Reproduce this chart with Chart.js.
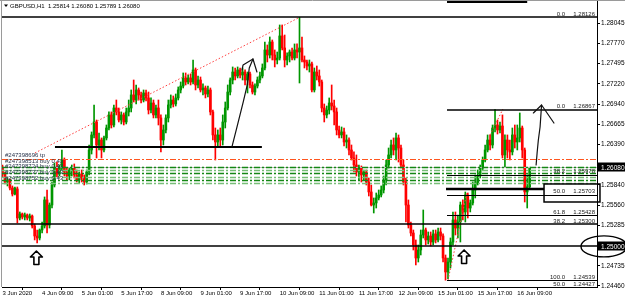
<!DOCTYPE html>
<html><head><meta charset="utf-8">
<style>html,body{margin:0;padding:0;background:#fff;overflow:hidden}canvas{display:block}</style>
</head><body>
<canvas id="c" width="625" height="301"></canvas>
<script src="https://cdn.jsdelivr.net/npm/chart.js@4/dist/chart.umd.min.js"></script>
<script>
const symbolTitle = "GBPUSD,H1  1.25814 1.26080 1.25789 1.26080";
const xTickLabels = ["3 Jun 2020","4 Jun 09:00","5 Jun 01:00","5 Jun 17:00","8 Jun 09:00","9 Jun 01:00","9 Jun 17:00","10 Jun 09:00","11 Jun 01:00","11 Jun 17:00","12 Jun 09:00","15 Jun 01:00","15 Jun 17:00","16 Jun 09:00"];
const barsPerLabel = 16;
const yTickValues = [1.28045,1.27770,1.27495,1.27220,1.26940,1.26665,1.26390,1.25840,1.25560,1.25285,1.24735,1.24460];
const markedPrices = [1.26080,1.25000];

const barOpen = [
1.26084,1.25988,1.25879,1.25907,1.25797,1.25715,1.25784,1.25388,1.25443,1.25402,
1.25429,1.25388,1.25415,1.25279,1.25142,1.25115,1.25224,1.25279,1.25634,1.25292,
1.25565,1.25838,1.26070,1.25988,1.26070,1.26179,1.26016,1.25961,1.26043,1.26070,
1.25975,1.25907,1.25988,1.25934,1.25879,1.26016,1.26316,1.26521,1.26698,1.26384,
1.26452,1.26316,1.26480,1.26616,1.26794,1.26657,1.26889,1.26835,1.26725,1.26794,
1.26698,1.26835,1.26889,1.27067,1.26998,1.27135,1.27067,1.26998,1.27094,1.27026,
1.26862,1.26957,1.26794,1.26889,1.26753,1.26452,1.26589,1.26753,1.26930,1.26998,
1.26944,1.27026,1.27135,1.27189,1.27299,1.27244,1.27299,1.27244,1.27408,1.27203,
1.27271,1.27135,1.27162,1.27080,1.27135,1.26835,1.26521,1.26425,1.26521,1.26452,
1.26698,1.26889,1.27107,1.27271,1.27380,1.27326,1.27408,1.27339,1.27380,1.27271,
1.27353,1.27203,1.27107,1.27189,1.27271,1.27326,1.27435,1.27681,1.27612,1.27790,
1.27612,1.27544,1.27571,1.27872,1.27708,1.27544,1.27599,1.27653,1.27571,1.27681,
1.27653,1.27708,1.27544,1.27517,1.27462,1.27490,1.27135,1.27380,1.27326,1.27244,
1.26889,1.26794,1.26862,1.26957,1.26916,1.26835,1.26589,1.26521,1.26562,1.26425,
1.26452,1.26316,1.26207,1.26111,1.26016,1.26070,1.25975,1.26016,1.25879,1.25743,
1.25565,1.25593,1.25661,1.25702,1.25770,1.25907,1.26111,1.26248,1.26384,1.26316,
1.26480,1.26343,1.26111,1.25879,1.25565,1.25292,1.25183,1.25019,1.24842,1.24951,
1.25156,1.25224,1.25088,1.25142,1.25060,1.25170,1.25088,1.25197,1.25142,1.24842,
1.24651,1.24787,1.25060,1.25361,1.25251,1.25333,1.25565,1.25470,1.25702,1.25524,
1.25593,1.25770,1.25866,1.25961,1.26070,1.26179,1.26316,1.26452,1.26384,1.26616,
1.26657,1.26589,1.26643,1.26248,1.26452,1.26316,1.26289,1.26521,1.26425,1.26480,
1.26616,1.26316,1.25743,1.25814];
const barHigh = [
1.26111,1.26016,1.25934,1.25920,1.25825,1.25811,1.25811,1.25470,1.25456,1.25456,
1.25443,1.25443,1.25429,1.25306,1.25224,1.25238,1.25333,1.25675,1.25770,1.25593,
1.25879,1.26138,1.26152,1.26111,1.26316,1.26207,1.26070,1.26070,1.26111,1.26125,
1.26043,1.26016,1.26043,1.25975,1.26043,1.26384,1.26562,1.26930,1.26725,1.26548,
1.26480,1.26507,1.26657,1.26835,1.26835,1.26930,1.26998,1.26889,1.26835,1.26821,
1.26889,1.26998,1.27135,1.27271,1.27203,1.27162,1.27107,1.27135,1.27135,1.27107,
1.27026,1.26998,1.26930,1.26998,1.26794,1.26657,1.26794,1.26998,1.27067,1.27053,
1.27080,1.27176,1.27244,1.27367,1.27367,1.27339,1.27353,1.27544,1.27435,1.27326,
1.27312,1.27217,1.27189,1.27189,1.27162,1.26862,1.26616,1.26589,1.26616,1.26794,
1.26971,1.27203,1.27299,1.27449,1.27435,1.27449,1.27435,1.27435,1.27408,1.27380,
1.27380,1.27244,1.27217,1.27312,1.27380,1.27490,1.27790,1.27749,1.27858,1.27817,
1.27681,1.27653,1.28022,1.28022,1.27885,1.27640,1.27681,1.27708,1.27763,1.27763,
1.28126,1.27858,1.27599,1.27544,1.27544,1.27517,1.27435,1.27462,1.27408,1.27271,
1.26944,1.26916,1.27026,1.27203,1.26998,1.26889,1.26643,1.26630,1.26616,1.26521,
1.26480,1.26384,1.26289,1.26248,1.26111,1.26098,1.26043,1.26043,1.25934,1.25838,
1.25661,1.25729,1.25770,1.25825,1.25961,1.26179,1.26343,1.26452,1.26480,1.26548,
1.26521,1.26384,1.26179,1.25934,1.25634,1.25333,1.25224,1.25088,1.25019,1.25224,
1.25497,1.25251,1.25197,1.25197,1.25224,1.25224,1.25251,1.25251,1.25170,1.24883,
1.24842,1.25115,1.25470,1.25470,1.25429,1.25606,1.25634,1.25743,1.25729,1.25634,
1.25879,1.25975,1.26043,1.26111,1.26220,1.26384,1.26521,1.26521,1.26657,1.26867,
1.26725,1.26698,1.26794,1.26521,1.26521,1.26452,1.26616,1.26657,1.26657,1.26821,
1.26643,1.26343,1.25975,1.26080];
const barLow = [
1.25947,1.25852,1.25825,1.25770,1.25688,1.25702,1.25320,1.25361,1.25374,1.25361,
1.25361,1.25347,1.25251,1.25088,1.25047,1.25088,1.25183,1.25251,1.25183,1.25251,
1.25524,1.25811,1.25947,1.25961,1.26043,1.25961,1.25907,1.25907,1.25961,1.25934,
1.25879,1.25866,1.25879,1.25838,1.25852,1.25975,1.26261,1.26480,1.26207,1.26316,
1.26207,1.26289,1.26452,1.26589,1.26616,1.26630,1.26794,1.26698,1.26671,1.26657,
1.26671,1.26780,1.26835,1.26971,1.26944,1.26998,1.26957,1.26971,1.26985,1.26807,
1.26821,1.26753,1.26753,1.26657,1.26289,1.26384,1.26548,1.26698,1.26889,1.26903,
1.26916,1.26998,1.27094,1.27162,1.27203,1.27217,1.27203,1.27217,1.27135,1.27162,
1.27107,1.27067,1.27026,1.27039,1.26794,1.26452,1.26179,1.26371,1.26371,1.26384,
1.26616,1.26862,1.27067,1.27217,1.27271,1.27299,1.27299,1.27271,1.27203,1.27094,
1.27162,1.27080,1.27067,1.27162,1.27230,1.27299,1.27408,1.27517,1.27571,1.27544,
1.27449,1.27490,1.27544,1.27681,1.27449,1.27476,1.27517,1.27544,1.27544,1.27571,
1.27230,1.27517,1.27435,1.27408,1.27380,1.27107,1.27107,1.27271,1.27189,1.26835,
1.26698,1.26753,1.26807,1.26862,1.26657,1.26521,1.26480,1.26480,1.26371,1.26343,
1.26248,1.26179,1.26016,1.25961,1.25907,1.25879,1.25907,1.25838,1.25688,1.25552,
1.25456,1.25524,1.25634,1.25675,1.25729,1.25838,1.26070,1.26207,1.26248,1.26179,
1.26152,1.26070,1.25838,1.25333,1.25251,1.25142,1.24951,1.24747,1.24787,1.24883,
1.25115,1.25019,1.25033,1.25006,1.25019,1.25047,1.25060,1.25088,1.24787,1.24539,
1.24560,1.24706,1.25019,1.25156,1.25115,1.25060,1.25361,1.25333,1.25388,1.25470,
1.25565,1.25661,1.25838,1.25934,1.26043,1.26152,1.26289,1.26316,1.26343,1.26562,
1.26534,1.26548,1.26207,1.26084,1.26207,1.26179,1.26248,1.26343,1.26316,1.26425,
1.26207,1.25606,1.25524,1.25789];
const barClose = [
1.25988,1.25879,1.25907,1.25797,1.25715,1.25797,1.25388,1.25443,1.25402,1.25429,
1.25388,1.25415,1.25279,1.25142,1.25115,1.25224,1.25279,1.25634,1.25292,1.25565,
1.25838,1.26070,1.25988,1.26070,1.26179,1.26016,1.25961,1.26043,1.26070,1.25975,
1.25907,1.25988,1.25934,1.25879,1.26016,1.26316,1.26521,1.26698,1.26384,1.26452,
1.26316,1.26480,1.26616,1.26794,1.26657,1.26889,1.26835,1.26725,1.26794,1.26698,
1.26835,1.26889,1.27067,1.26998,1.27135,1.27067,1.26998,1.27094,1.27026,1.26862,
1.26957,1.26794,1.26889,1.26753,1.26452,1.26589,1.26753,1.26930,1.26998,1.26944,
1.27026,1.27135,1.27189,1.27299,1.27244,1.27299,1.27244,1.27408,1.27203,1.27271,
1.27135,1.27162,1.27080,1.27135,1.26835,1.26521,1.26425,1.26521,1.26452,1.26698,
1.26889,1.27107,1.27271,1.27380,1.27326,1.27408,1.27339,1.27380,1.27271,1.27353,
1.27203,1.27107,1.27189,1.27271,1.27326,1.27435,1.27681,1.27612,1.27790,1.27612,
1.27544,1.27571,1.27872,1.27708,1.27544,1.27599,1.27653,1.27571,1.27681,1.27653,
1.27708,1.27544,1.27517,1.27462,1.27490,1.27135,1.27380,1.27326,1.27244,1.26889,
1.26794,1.26862,1.26957,1.26916,1.26835,1.26589,1.26521,1.26562,1.26425,1.26452,
1.26316,1.26207,1.26111,1.26016,1.26070,1.25975,1.26016,1.25879,1.25743,1.25565,
1.25593,1.25661,1.25702,1.25770,1.25907,1.26111,1.26248,1.26384,1.26316,1.26480,
1.26343,1.26111,1.25879,1.25565,1.25292,1.25183,1.25019,1.24842,1.24951,1.25156,
1.25224,1.25088,1.25142,1.25060,1.25170,1.25088,1.25197,1.25142,1.24842,1.24651,
1.24787,1.25060,1.25361,1.25251,1.25333,1.25565,1.25470,1.25702,1.25524,1.25593,
1.25770,1.25866,1.25961,1.26070,1.26179,1.26316,1.26452,1.26384,1.26616,1.26657,
1.26589,1.26643,1.26248,1.26452,1.26316,1.26289,1.26521,1.26425,1.26480,1.26616,
1.26316,1.25743,1.25814,1.26080];

const fibLevelText = ["0.0","0.0","38.2","50.0","61.8","38.2","100.0","50.0"];
const fibLevelPrice = [1.28126,1.26867,1.25978,1.25703,1.25428,1.25300,1.24539,1.24427];
const orderText = ["#247398696 tp","#247398513 buy 0.43","#247398724 buy 0.43","#247398737 buy 0.43","#247398752 buy 0.43"];
const orderTextPrice = [1.26248,1.26156,1.26088,1.26006,1.25930];
const tpPrice = 1.26189;
const orderLinePrice = [1.26088,1.26043,1.25998,1.25952,1.25907,1.25861];

// drawing objects (positions in bar index / price)
const hLines = [
  {p:1.28126,a:null,b:null,w:1.3},
  {p:1.28329,a:179.6,b:212,w:2.2},
  {p:1.26867,a:179.6,b:null,w:1.3},
  {p:1.26357,a:21.2,b:104.8,w:2},
  {p:1.25978,a:179.6,b:null,w:1},
  {p:1.25784,a:179.2,b:218.8,w:2.5},
  {p:1.25703,a:179.6,b:null,w:1},
  {p:1.25428,a:179.6,b:null,w:1},
  {p:1.25300,a:null,b:null,w:1.3},
  {p:1.25000,a:null,b:null,w:1.3},
  {p:1.24539,a:179.6,b:null,w:1}
];
const trendLines = [
  [[13.1,1.26275],[120,1.28126]],
  [[180,1.24539],[187.7,1.25743]],
  [[197,1.26521],[202.2,1.26875]]
];
const handArrows = [
  {shaft:[[92.7,1.26357],[94.6,1.26612],[97.3,1.26975],[98.9,1.27203],[99.7,1.27435],[101.2,1.27558]],
   head:[[96.8,1.27408],[97.2,1.27476],[101.2,1.27558],[102.8,1.27380]]},
  {shaft:[[215.6,1.26111],[216,1.26275],[216.5,1.26452],[217.2,1.26630],[217.8,1.26930]],
   head:[[214.5,1.26821],[217.8,1.26930],[222.8,1.26684]]}
];
const upArrowAt = [[13.7,1.24842],[186.5,1.24856]];
const boxObj = {a:218.8,b:241.4,top:1.25852,bottom:1.25606};

const bull = 'rgb(0,150,0)', bear = 'rgb(255,0,0)';
const candleColor = barClose.map((c,i)=> c >= barOpen[i] ? bull : bear);
const FONT = '"Liberation Sans", Arial, sans-serif';

const overlay = {
  id:'overlay',
  afterDatasetsDraw(chart){
    const {ctx, chartArea:ca, scales:{x,y}} = chart;
    const X = v => x.getPixelForValue(v), Y = v => y.getPixelForValue(v);
    const cy = p => Math.round(Y(p)) + 0.5;
    ctx.save();
    ctx.beginPath(); ctx.rect(ca.left, ca.top, ca.right-ca.left, ca.bottom-ca.top); ctx.clip();
    ctx.strokeStyle = '#b8b8b8'; ctx.lineWidth = 1; ctx.setLineDash([]);
    ctx.beginPath(); ctx.moveTo(ca.left, cy(1.26080)); ctx.lineTo(ca.right, cy(1.26080)); ctx.stroke();
    ctx.setLineDash([6,2,2,2]);
    orderLinePrice.forEach((p,k)=>{
      ctx.strokeStyle = k%2===0 ? 'rgb(20,135,20)' : 'rgb(120,190,120)';
      ctx.lineWidth = 1.3;
      ctx.beginPath(); ctx.moveTo(ca.left, cy(p)); ctx.lineTo(ca.right, cy(p)); ctx.stroke();
    });
    ctx.strokeStyle = 'rgb(255,85,30)'; ctx.lineWidth = 1;
    ctx.beginPath(); ctx.moveTo(ca.left, cy(tpPrice)); ctx.lineTo(ca.right, cy(tpPrice)); ctx.stroke();
    ctx.setLineDash([1.5,2]); ctx.strokeStyle = 'rgb(255,60,60)'; ctx.lineWidth = 1;
    trendLines.forEach(t=>{ ctx.beginPath(); ctx.moveTo(X(t[0][0]),Y(t[0][1])); ctx.lineTo(X(t[1][0]),Y(t[1][1])); ctx.stroke(); });
    ctx.setLineDash([]);
    ctx.strokeStyle = '#000';
    hLines.forEach(h=>{
      ctx.lineWidth = h.w;
      const yy = h.w%2===1 ? cy(h.p) : Math.round(Y(h.p));
      ctx.beginPath();
      ctx.moveTo(h.a===null?ca.left:X(h.a), yy);
      ctx.lineTo(h.b===null?ca.right:X(h.b), yy);
      ctx.stroke();
    });
    ctx.lineWidth = 1.2; ctx.strokeStyle = '#111'; ctx.lineJoin='round'; ctx.lineCap='round';
    handArrows.forEach(a=>{
      ctx.beginPath(); a.shaft.forEach((pt,k)=> k?ctx.lineTo(X(pt[0]),Y(pt[1])):ctx.moveTo(X(pt[0]),Y(pt[1]))); ctx.stroke();
      ctx.beginPath(); a.head.forEach((pt,k)=> k?ctx.lineTo(X(pt[0]),Y(pt[1])):ctx.moveTo(X(pt[0]),Y(pt[1]))); ctx.stroke();
    });
    upArrowAt.forEach(pt=>{
      const ax = X(pt[0]), ay = Y(pt[1]);
      const shape = [[0,-7],[6,-1],[2.5,-1],[2.5,6.5],[-2.5,6.5],[-2.5,-1],[-6,-1]];
      ctx.beginPath(); shape.forEach((s,k)=> k?ctx.lineTo(ax+s[0],ay+s[1]):ctx.moveTo(ax+s[0],ay+s[1])); ctx.closePath();
      ctx.fillStyle='#fff'; ctx.fill(); ctx.lineWidth=1.6; ctx.strokeStyle='#000'; ctx.stroke();
    });
    ctx.font = '6px ' + FONT; ctx.fillStyle = '#26324a'; ctx.textBaseline='middle'; ctx.textAlign='left';
    orderText.forEach((t,k)=> ctx.fillText(t, ca.left+3, Y(orderTextPrice[k])));
    ctx.restore();
  },
  afterDraw(chart){
    const {ctx, chartArea:ca, scales:{x,y}} = chart;
    const X = v => x.getPixelForValue(v), Y = v => y.getPixelForValue(v);
    ctx.save();
    ctx.strokeStyle='#000'; ctx.lineWidth=1.5;
    ctx.strokeRect(X(boxObj.a), Y(boxObj.top), X(boxObj.b)-X(boxObj.a), Y(boxObj.bottom)-Y(boxObj.top));
    ctx.font = '6px ' + FONT; ctx.fillStyle = '#222'; ctx.textBaseline='alphabetic'; ctx.textAlign='right';
    fibLevelPrice.forEach((p,k)=>{
      const yy = Math.min(Y(p), ca.bottom) - 1.5;
      ctx.fillText(fibLevelText[k], ca.right-32, yy);
      ctx.fillText(p.toFixed(5), ca.right-2, yy);
    });
    ctx.textAlign='left'; ctx.textBaseline='middle'; ctx.font='6.5px ' + FONT;
    markedPrices.forEach(p=>{
      const yy = Y(p);
      ctx.fillStyle='#000'; ctx.fillRect(ca.right+1, Math.round(yy)-4.5, 27, 9);
      ctx.fillStyle='#fff'; ctx.fillText(p.toFixed(5), ca.right+4, yy+0.5);
    });
    ctx.strokeStyle='#000'; ctx.lineWidth=1.4;
    ctx.beginPath(); ctx.ellipse(ca.right+7, Y(1.25), 23, 10.5, 0, 0, Math.PI*2); ctx.stroke();
    ctx.strokeStyle='#9a9a9a'; ctx.lineWidth=1;
    ctx.beginPath(); ctx.moveTo(0,0.5); ctx.lineTo(625,0.5); ctx.moveTo(1.5,0); ctx.lineTo(1.5,ca.bottom); ctx.stroke();
    ctx.fillStyle='#000';
    ctx.beginPath(); ctx.moveTo(4,4.5); ctx.lineTo(8,4.5); ctx.lineTo(6,7); ctx.closePath(); ctx.fill();
    ctx.font='6px ' + FONT; ctx.textAlign='left'; ctx.textBaseline='middle';
    ctx.fillText(symbolTitle, 10, 6);
    ctx.restore();
  }
};

new Chart(document.getElementById('c'), {
  type:'bar',
  data:{datasets:[
    {label:'wick', data: barHigh.map((h,i)=>({x:i, y:[barLow[i], h]})), backgroundColor: candleColor, barThickness:1, grouped:false, borderWidth:0, order:2},
    {label:'body', data: barOpen.map((o,i)=>({x:i, y:[o, barClose[i]]})), backgroundColor: candleColor, barThickness:2, grouped:false, borderWidth:0, minBarLength:1, order:1}
  ]},
  options:{
    responsive:false, animation:false, devicePixelRatio:1,
    layout:{padding:{left:2, top:1, right:0, bottom:0}},
    plugins:{legend:{display:false}, tooltip:{enabled:false}},
    scales:{
      x:{type:'linear', min:-0.2, max:240.2, offset:false,
        grid:{display:true, drawOnChartArea:false, drawTicks:true, tickLength:3, color:'#000'},
        border:{display:true, color:'#000', width:1},
        ticks:{font:{size:6, family:FONT}, color:'#000', maxRotation:0, minRotation:0, autoSkip:false, align:'start', padding:0,
          callback:(v,idx)=> xTickLabels[idx]},
        afterBuildTicks:s=>{ s.ticks = xTickLabels.map((t,k)=>({value:k*barsPerLabel})); },
        afterFit:s=>{ s.height = 14; s.paddingLeft = 0; s.paddingRight = 0; }
      },
      y:{type:'linear', position:'right', min:1.24446, max:1.28349,
        grid:{display:true, drawOnChartArea:false, drawTicks:true, tickLength:3, color:'#000'},
        border:{display:true, color:'#000', width:1},
        ticks:{font:{size:6.5, family:FONT}, color:'#000', padding:1, callback:v=>v.toFixed(5)},
        afterBuildTicks:s=>{ s.ticks = yTickValues.map(v=>({value:v})); },
        afterFit:s=>{ s.width = 28; s.paddingTop = 0; s.paddingBottom = 0; }
      }
    }
  },
  plugins:[overlay]
});
</script>
</body></html>
